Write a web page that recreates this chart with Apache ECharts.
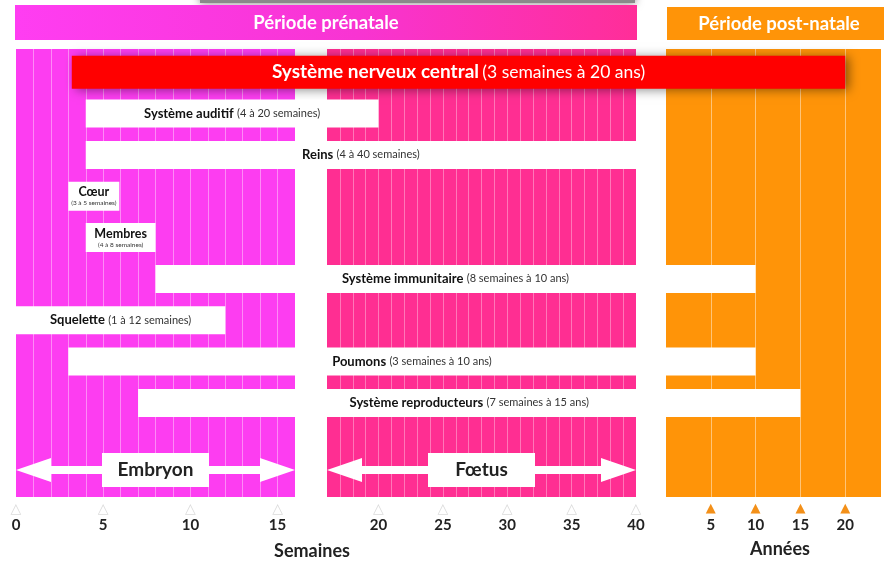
<!DOCTYPE html>
<html><head><meta charset="utf-8">
<script src="https://cdn.jsdelivr.net/npm/echarts@6/dist/echarts.min.js"></script>
<style>html,body{margin:0;padding:0;background:#fff}#c{width:884px;height:565px}</style>
</head><body><div id="c"></div>
<script>
// ---- data ----
const organs = ['Système nerveux central', 'Système auditif', 'Reins', 'Cœur', 'Membres',
  'Système immunitaire', 'Squelette', 'Poumons', 'Système reproducteurs'];
const details = ['(3 semaines à 20 ans)', '(4 à 20 semaines)', '(4 à 40 semaines)', '(3 à 5 semaines)',
  '(4 à 8 semaines)', '(8 semaines à 10 ans)', '(1 à 12 semaines)', '(3 semaines à 10 ans)', '(7 semaines à 15 ans)'];
const startValues = [3.2, 4, 4, 3, 4, 8, 0, 3, 7];
const startUnits = ['semaines', 'semaines', 'semaines', 'semaines', 'semaines', 'semaines', 'semaines', 'semaines', 'semaines'];
const endValues = [20, 20, 40, 5, 8, 10, 12, 10, 15];
const endUnits = ['ans', 'semaines', 'semaines', 'semaines', 'semaines', 'ans', 'semaines', 'ans', 'ans'];
const stages = ['Embryon', 'Fœtus'];
const stageStart = [0, 16];
const stageEnd = [16, 40];
const weekTickLabels = [0, 5, 10, 15, 20, 25, 30, 35, 40];
const yearTickLabels = [5, 10, 15, 20];
const periods = ['Période prénatale', 'Période post-natale'];
const axisTitles = ['Semaines', 'Années'];

// ---- chart ----
const FONT = 'Lato, "DejaVu Sans", sans-serif';
const chart = echarts.init(document.getElementById('c'), null, {renderer: 'canvas'});

function axisFor(v, unit, isEnd) {
  if (unit === 'ans') return 2;
  if (isEnd) return v <= 16 ? 0 : 1;
  return v < 16 ? 0 : 1;
}
function px(v, unit, isEnd) {
  return chart.convertToPixel({xAxisIndex: axisFor(v, unit, isEnd)}, v);
}

function weekLabel(v) {
  return weekTickLabels.indexOf(v) >= 0 ? '{t|△}\n{n|' + v + '}' : '';
}
function yearLabel(v) {
  return yearTickLabels.indexOf(v) >= 0 ? '{t|▲}\n{n|' + v + '}' : '';
}
const weekRich = {
  t: {color: '#dcdcdc', fontSize: 14, lineHeight: 14, fontFamily: FONT},
  n: {color: '#222', fontSize: 15, fontWeight: 'bold', lineHeight: 20, fontFamily: FONT}
};
const yearRich = {
  t: {color: '#F39019', fontSize: 13, lineHeight: 14, fontFamily: FONT},
  n: {color: '#222', fontSize: 15, fontWeight: 'bold', lineHeight: 20, fontFamily: FONT}
};

function panelAxis(grid, min, max, interval, formatter, rich, stripe) {
  return {
    gridIndex: grid, type: 'value', min: min, max: max, interval: interval,
    axisLine: {show: false}, axisTick: {show: false},
    splitLine: {show: true, showMinLine: false, showMaxLine: false,
      lineStyle: {color: stripe, width: 1}},
    axisLabel: {show: true, margin: 4, formatter: formatter, rich: rich,
      showMinLabel: true, showMaxLabel: true}
  };
}

function renderOrgan(params, api) {
  const i = params.dataIndex;
  const cy = api.coord([0, i])[1];
  const x0 = px(startValues[i], startUnits[i], false);
  const x1 = px(endValues[i], endUnits[i], true);
  const isMain = i === 0;
  const span = x1 - x0;
  const compact = span < 90;
  const w = compact ? Math.max(span, 51) : span;
  const h = isMain ? 33 : (compact ? 29 : 28);
  const rect = {
    type: 'rect',
    shape: {x: x0, y: cy - h / 2, width: w, height: h},
    style: isMain
      ? {fill: '#FF0000', shadowBlur: 10, shadowColor: 'rgba(0,0,0,0.45)', shadowOffsetX: 4, shadowOffsetY: 1}
      : {fill: '#ffffff'}
  };
  let text, rich;
  if (isMain) {
    text = '{b|' + organs[i] + '} {r|' + details[i] + '}';
    rich = {
      b: {fill: '#fff', fontSize: 19, fontWeight: 'bold', fontFamily: FONT},
      r: {fill: '#fff', fontSize: 17.5, fontFamily: FONT}
    };
  } else if (compact) {
    text = '{b|' + organs[i] + '}\n{r|' + details[i] + '}';
    rich = {
      b: {fill: '#111', fontSize: 12.5, fontWeight: 'bold', fontFamily: FONT, lineHeight: 14},
      r: {fill: '#333', fontSize: 6.5, fontFamily: FONT, lineHeight: 8}
    };
  } else {
    text = '{b|' + organs[i] + '} {r|' + details[i] + '}';
    rich = {
      b: {fill: '#111', fontSize: 13, fontWeight: 'bold', fontFamily: FONT},
      r: {fill: '#333', fontSize: 11, fontFamily: FONT}
    };
  }
  return {
    type: 'group',
    children: [rect, {
      type: 'text',
      style: {text: text, rich: rich, x: x0 + w / 2, y: cy, align: 'center', verticalAlign: 'middle'}
    }]
  };
}

function renderStage(params, api) {
  const i = params.dataIndex;
  const cy = api.coord([0, 0])[1];
  const x0 = px(stageStart[i], 'semaines', false);
  const x1 = px(stageEnd[i], 'semaines', true);
  const hl = 35, hh = 12, sh = 4;
  const pts = [[x0, cy], [x0 + hl, cy - hh], [x0 + hl, cy - sh], [x1 - hl, cy - sh], [x1 - hl, cy - hh],
    [x1, cy], [x1 - hl, cy + hh], [x1 - hl, cy + sh], [x0 + hl, cy + sh], [x0 + hl, cy + hh]];
  const bw = 107, bh = 34, cx = (x0 + x1) / 2;
  return {
    type: 'group',
    children: [
      {type: 'polygon', shape: {points: pts}, style: {fill: '#fff'}},
      {type: 'rect', shape: {x: cx - bw / 2, y: cy - bh / 2, width: bw, height: bh}, style: {fill: '#fff'}},
      {type: 'text', style: {text: stages[i], x: cx, y: cy, align: 'center', verticalAlign: 'middle',
        fill: '#222', font: 'bold 19px ' + FONT}}
    ]
  };
}

const option = {
  animation: false,
  backgroundColor: '#ffffff',
  grid: [
    {left: 16, top: 49, width: 279, height: 448, show: true, backgroundColor: '#FD3DF1', borderWidth: 0},
    {left: 327, top: 49, width: 309, height: 448, show: true, backgroundColor: '#FF2E92', borderWidth: 0},
    {left: 666, top: 49, width: 220, height: 448, show: true, backgroundColor: '#FF9408', borderWidth: 0},
    {left: 0, top: 51.6, width: 884, height: 372, show: false},
    {left: 0, top: 452, width: 884, height: 36, show: false}
  ],
  xAxis: [
    panelAxis(0, 0, 16, 1, weekLabel, weekRich, 'rgba(255,255,255,0.4)'),
    panelAxis(1, 16, 40, 1, weekLabel, weekRich, 'rgba(255,255,255,0.35)'),
    panelAxis(2, 0, 24, 5, yearLabel, yearRich, 'rgba(255,255,255,0.45)'),
    {gridIndex: 3, type: 'value', min: 0, max: 1, show: false},
    {gridIndex: 4, type: 'value', min: 0, max: 1, show: false}
  ],
  yAxis: [
    {gridIndex: 0, type: 'value', show: false},
    {gridIndex: 1, type: 'value', show: false},
    {gridIndex: 2, type: 'value', show: false},
    {gridIndex: 3, type: 'category', data: organs, inverse: true, show: false},
    {gridIndex: 4, type: 'category', data: ['stade'], show: false}
  ],
  graphic: [
    {type: 'rect', shape: {x: 200, y: -12, width: 435, height: 15}, style: {fill: '#8a8a8a', shadowBlur: 8, shadowColor: 'rgba(0,0,0,0.5)'}, z: 1},
    {type: 'rect', shape: {x: 15, y: 5, width: 622, height: 35}, z: 2,
      style: {fill: new echarts.graphic.LinearGradient(0, 0, 1, 0, [
        {offset: 0, color: '#FF3DF2'}, {offset: 0.55, color: '#F834D2'}, {offset: 1, color: '#FF2E98'}])}},
    {type: 'text', x: 326, y: 23, z: 3, style: {text: periods[0], fill: '#fff', font: 'bold 18.5px ' + FONT, align: 'center', verticalAlign: 'middle'}},
    {type: 'rect', shape: {x: 667, y: 7, width: 217, height: 33}, z: 2, style: {fill: '#FF9408'}},
    {type: 'text', x: 779, y: 24, z: 3, style: {text: periods[1], fill: '#fff', font: 'bold 18.5px ' + FONT, align: 'center', verticalAlign: 'middle'}},
    {type: 'text', x: 312, y: 551, z: 3, style: {text: axisTitles[0], fill: '#222', font: 'bold 18px ' + FONT, align: 'center', verticalAlign: 'middle'}},
    {type: 'text', x: 780, y: 549, z: 3, style: {text: axisTitles[1], fill: '#222', font: 'bold 18px ' + FONT, align: 'center', verticalAlign: 'middle'}}
  ],
  series: [
    {type: 'custom', xAxisIndex: 3, yAxisIndex: 3, clip: false, z: 5,
      data: organs.map((o, i) => [0, i]), encode: {x: 0, y: 1}, renderItem: renderOrgan},
    {type: 'custom', xAxisIndex: 4, yAxisIndex: 4, clip: false, z: 5,
      data: stages.map(() => [0, 0]), encode: {x: 0, y: 1}, renderItem: renderStage}
  ]
};
chart.setOption(option);
</script>
</body></html>
